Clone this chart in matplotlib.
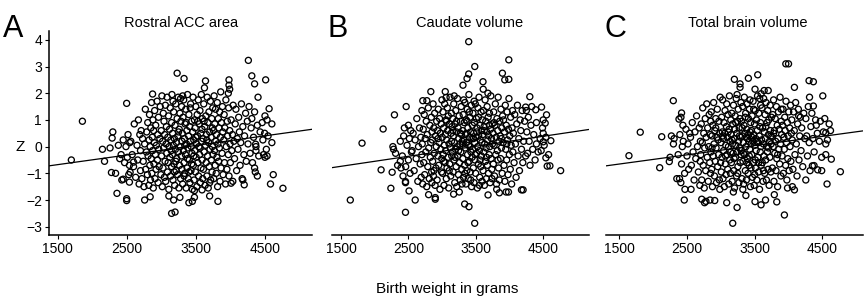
import matplotlib
matplotlib.use('Agg')
import matplotlib.pyplot as plt
import numpy as np

plt.rcParams['font.family'] = ['Liberation Sans', 'DejaVu Sans']

# (birth weight in g, Z)
acc_points = [
    (1700, -0.5), (1860, 0.95), (2150, -0.1), (2180, -0.55), (2300, 0.55), (2290, 0.32), (2280, -0.97),
    (2340, -1.0), (2360, -1.75), (2430, -1.25), (2450, -1.22), (2500, 1.62), (2500, -1.95), (2500, -2.02),
    (2540, -1.33), (2550, -0.96), (2600, -0.58), (2875, 1.97), (3230, 2.75), (3330, 2.55), (3150, -2.5),
    (3200, -2.45), (4260, 3.23), (4310, 2.65), (4350, 2.35), (4510, 2.5), (3640, 2.46), (3980, 2.5),
    (3980, 2.3), (3990, 2.15), (3970, 2.0), (4760, -1.56), (4620, -1.05), (4580, -1.4), (4350, -0.8),
    (4360, -0.95), (4390, -1.1), (4480, -0.3), (4500, -0.4), (4530, -0.35), (4560, 1.42), (4500, 1.15),
    (4530, 1.0), (4600, 0.85), (4400, 1.85), (3820, -2.05), (3700, -1.85), (3400, -2.1), (3450, -2.05),
    (3480, -1.9), (2840, -1.88), (2760, -2.0), (3180, -2.0), (3270, -1.9), (3110, -1.85), (3590, -1.62),
    (4010, -1.37), (4180, -1.25), (4200, -1.43), (4365, 0.09), (4370, -0.15),
    (2380, 0.05), (2420, -0.3), (2450, 0.25), (2470, -0.6), (2490, 0.0), (2510, -0.4), (2520, 0.45),
    (2530, -1.05), (2540, -0.7), (2545, 0.15), (2260, -0.05), (2400, -0.45),
    (2560, 0.2), (2580, -0.3), (2600, -0.75), (2610, 0.85), (2630, -1.15), (2650, 0.05), (2660, -0.5),
    (2670, 1.0), (2680, -1.4), (2690, 0.45), (2700, -0.9), (2700, -0.15),
    (2710, 0.6), (2720, -1.2), (2730, 0.3), (2740, -0.55), (2750, -1.5), (2760, 0.1), (2770, 1.4),
    (2775, -0.85), (2785, -0.2), (2790, 0.55), (2800, -1.05), (2805, 0.9), (2810, -0.35), (2820, -1.45),
    (2825, 0.25), (2830, 1.2), (2835, -0.7), (2840, 0.0), (2845, -1.25), (2850, 0.7),
    (2855, -0.45), (2860, 1.65), (2865, -1.0), (2870, 0.35), (2875, -0.15), (2880, 1.0), (2885, -1.55),
    (2890, 0.6), (2895, -0.65), (2900, 0.15), (2905, 1.35), (2910, -1.2), (2915, -0.3), (2920, 0.8),
    (2925, -0.85), (2930, 0.05), (2940, 1.7), (2945, -0.5), (2950, 0.45), (2955, -1.35), (2960, 1.1),
    (2965, -0.1), (2970, -0.75), (2980, 0.3), (2985, 1.5), (2995, -1.05),
    (3000, 0.6), (3005, -0.35), (3010, 1.9), (3015, -1.5), (3020, 0.2), (3025, -0.8), (3030, 1.25),
    (3035, -0.05), (3040, 0.95), (3045, -1.15), (3050, 0.45), (3055, -0.55), (3060, 1.55), (3065, -1.3),
    (3070, 0.1), (3075, 0.75), (3080, -0.25), (3085, 1.85), (3090, -0.95), (3095, 0.35), (3100, -0.6),
    (3105, 1.15), (3110, -1.6), (3115, 0.0), (3120, 0.65), (3125, -0.4), (3130, 1.45), (3135, -1.1),
    (3140, 0.25), (3145, -0.15), (3150, 0.9), (3150, -0.75),
    (3155, 1.95), (3160, -0.3), (3165, 0.5), (3170, -1.25), (3175, 0.05), (3180, 1.3), (3185, -0.65),
    (3190, 0.3), (3195, -1.45), (3200, 0.8), (3205, -0.1), (3210, 1.6), (3215, -0.9), (3220, 0.15),
    (3225, -0.45), (3230, 1.05), (3235, -1.05), (3240, 0.4), (3245, 1.85), (3250, -0.2), (3255, -1.55),
    (3260, 0.65), (3265, -0.7), (3270, 1.25), (3275, 0.0), (3280, -1.2), (3285, 0.95), (3290, -0.35),
    (3295, 1.5), (3300, -0.85), (3300, 0.2), (3250, 0.55), (3210, -0.55), (3170, 1.7), (3280, 1.8),
    (3190, -0.95),
    (3305, 0.5), (3310, -1.4), (3315, 1.1), (3320, -0.15), (3325, 1.75), (3330, -0.6), (3335, 0.3),
    (3340, -1.0), (3345, 0.85), (3350, -0.3), (3355, 1.4), (3360, -1.55), (3365, 0.1), (3370, 0.6),
    (3375, -0.8), (3380, 1.95), (3385, -0.05), (3390, -1.2), (3395, 0.4), (3400, 1.2), (3405, -0.5),
    (3410, 0.75), (3415, -1.35), (3420, 0.2), (3425, 1.6), (3430, -0.9), (3435, 0.0), (3440, 0.95),
    (3445, -0.25), (3450, -1.6), (3310, 1.9), (3340, 0.05), (3360, 0.9), (3380, -0.45), (3400, -0.95),
    (3420, 1.45), (3440, -0.65), (3330, -1.1),
    (3455, 0.55), (3460, 1.85), (3465, -0.7), (3470, 0.25), (3475, -1.25), (3480, 1.0), (3485, -0.15),
    (3490, 0.7), (3495, -0.95), (3500, 1.5), (3505, -0.4), (3510, 0.1), (3515, -1.5), (3520, 1.2),
    (3525, 0.4), (3530, -0.6), (3535, 1.75), (3540, -1.1), (3545, 0.0), (3550, 0.85), (3555, -0.3),
    (3560, 1.35), (3565, -1.35), (3570, 0.5), (3575, -0.8), (3580, 1.95), (3585, 0.2), (3590, -0.5),
    (3595, 1.05), (3600, -1.2), (3470, -0.35), (3500, 0.35), (3530, 0.95), (3560, -0.05), (3590, 0.65),
    (3480, -1.65),
    (3605, 0.3), (3610, -0.85), (3615, 1.6), (3620, -0.2), (3625, 2.2), (3630, 0.75), (3635, -1.45),
    (3640, 0.05), (3645, 1.15), (3650, -0.6), (3655, 0.45), (3660, -1.1), (3665, 1.85), (3670, -0.35),
    (3675, 0.9), (3680, -1.55), (3685, 0.15), (3690, 1.3), (3695, -0.75), (3700, 0.55), (3705, -0.1),
    (3710, 1.7), (3715, -1.25), (3720, 0.35), (3725, -0.5), (3730, 1.05), (3735, -0.95), (3740, 0.0),
    (3745, 1.45), (3750, -0.3), (3620, 0.95), (3660, 0.25), (3700, -1.35), (3740, 0.7),
    (3755, 0.6), (3760, -1.2), (3765, 1.9), (3770, -0.15), (3775, 0.85), (3780, -0.7), (3785, 1.4),
    (3790, 0.2), (3795, -1.0), (3800, 0.45), (3805, -0.4), (3810, 1.65), (3815, -1.5), (3820, 0.1),
    (3825, 1.05), (3830, -0.55), (3835, 0.7), (3840, -0.05), (3845, 1.3), (3850, -1.3), (3855, 0.35),
    (3860, 2.05), (3865, -0.8), (3870, 0.9), (3880, -0.25), (3885, 1.5), (3890, 0.55), (3895, -1.05),
    (3905, 0.25), (3910, 1.2), (3915, -0.6), (3920, 0.7), (3930, -1.4), (3935, 1.75), (3940, 0.0),
    (3950, -0.85), (3955, 0.95), (3960, 0.4), (3970, -0.3), (3975, 1.45), (3980, -1.1), (3990, 0.6),
    (3995, 0.1), (4000, -0.6), (4010, 1.0), (4020, -0.15), (4030, 0.45), (4035, -1.3), (4040, 1.55),
    (4050, 0.2),
    (4060, -0.45), (4070, 0.85), (4080, 1.4), (4090, -0.9), (4100, 0.3), (4110, -0.1), (4120, 1.1),
    (4130, 0.55), (4140, -0.7), (4150, 0.15), (4160, 1.6), (4170, -1.2), (4180, 0.75), (4195, -0.3),
    (4205, 0.4), (4220, 1.25), (4230, -0.55), (4245, 0.95),
    (4255, 0.1), (4270, 1.5), (4285, -0.25), (4300, 0.7), (4310, 1.05), (4320, -0.6), (4335, 0.35),
    (4350, 1.3), (4370, 0.0), (4390, 0.8), (4410, -0.35), (4430, 0.55),
    (4460, 0.9), (4470, 0.25), (4495, 0.5), (4520, -0.1), (4545, 0.4), (4600, 0.15),
]

caudate_points = [
    (3395, 3.93), (3990, 3.25), (3485, 3.0), (3395, 2.72), (3370, 2.55), (3310, 2.3), (3895, 2.75),
    (3930, 2.5), (3990, 2.52), (3607, 2.43), (3610, 2.15), (3680, 2.0), (2833, 2.06), (3047, 2.06),
    (3060, 1.84), (2714, 1.72), (2774, 1.72), (2467, 1.5), (2293, 1.19), (2125, 0.66), (1812, 0.13),
    (1638, -2.0), (2095, -0.87), (2259, -0.96), (2240, -1.56), (2457, -1.31), (2457, -1.35), (2457, -2.46),
    (2510, -1.66), (2601, -2.0), (2440, 0.7), (2500, 0.8), (2280, -0.1), (2310, -0.25), (2380, -0.55),
    (2390, -0.8), (2340, -0.7), (3335, -2.15), (3399, -2.25), (3484, -2.87), (2899, -1.91), (2899, -1.97),
    (2800, -1.8), (3171, -1.78), (3682, -1.81), (3810, -1.6), (3850, -1.73), (3950, -1.7), (3985, -1.7),
    (4178, -1.62), (4202, -1.62), (4759, -0.9), (4614, 0.22), (4560, -0.73), (4600, -0.72), (4540, -0.42),
    (4476, 1.48), (4550, 1.19), (4302, 1.87), (4240, 1.48), (4250, 1.35), (4390, 1.38), (4500, 1.0),
    (4530, 0.88), (4500, 0.5), (4400, 0.1), (4500, 0.18),
    (2380, 0.2), (2410, -0.35), (2430, 0.4), (2460, -0.75), (2480, 0.05), (2500, -0.5), (2515, 0.3),
    (2525, -1.0), (2535, 0.6), (2545, -0.2), (2270, 0.0), (2420, -1.1),
    (2555, -0.15), (2570, 0.5), (2585, -0.9), (2600, 0.25), (2615, -0.45), (2625, 1.05), (2640, -1.3),
    (2650, 0.0), (2665, 0.7), (2675, -0.65), (2685, 0.35), (2690, -1.15), (2700, 1.35), (2700, -0.3),
    (2705, 0.1), (2712, -1.4), (2720, 0.65), (2728, -0.6), (2735, 1.2), (2742, -1.05), (2750, 0.3),
    (2758, -0.2), (2765, 0.95), (2772, -1.5), (2780, 0.45), (2788, -0.75), (2795, 1.45), (2802, -0.05),
    (2810, -1.2), (2818, 0.8), (2825, -0.4), (2832, 0.15), (2840, 1.1), (2845, -0.95), (2850, 0.55),
    (2850, -1.35),
    (2855, 0.25), (2860, -0.55), (2866, 1.6), (2872, -1.1), (2878, 0.7), (2884, -0.25), (2890, 1.25),
    (2896, -1.45), (2902, 0.4), (2908, -0.8), (2914, 0.0), (2920, 0.95), (2926, -1.25), (2932, 0.6),
    (2938, -0.35), (2944, 1.4), (2950, -0.7), (2956, 0.15), (2962, 1.05), (2968, -1.6), (2974, 0.5),
    (2980, -0.1), (2986, 0.85), (2992, -0.95), (2998, 1.75), (2995, -0.45), (2940, 0.3), (2880, -0.9),
    (3003, 0.35), (3008, -1.0), (3013, 1.3), (3018, -0.3), (3023, 0.7), (3028, -1.45), (3033, 0.05),
    (3038, 1.6), (3043, -0.6), (3048, 0.45), (3053, -0.15), (3058, 1.0), (3063, -1.2), (3068, 0.25),
    (3073, -0.8), (3078, 1.45), (3083, 0.6), (3088, -0.4), (3093, 1.15), (3098, -1.55), (3103, 0.1),
    (3108, 0.85), (3113, -0.65), (3118, 1.85), (3123, -0.05), (3128, -1.1), (3133, 0.5), (3138, 1.25),
    (3143, -0.35), (3148, 0.75), (3025, -0.55), (3065, 0.95), (3105, -0.9), (3140, 0.2),
    (3153, -0.2), (3158, 1.05), (3163, -0.95), (3168, 0.4), (3173, 1.6), (3178, -0.5), (3183, 0.15),
    (3188, -1.35), (3193, 0.85), (3198, -0.1), (3203, 1.35), (3208, -0.75), (3213, 0.55), (3218, -1.5),
    (3223, 0.0), (3228, 1.8), (3233, -0.35), (3238, 0.7), (3243, -1.05), (3248, 0.3), (3253, 1.15),
    (3258, -0.6), (3263, 0.1), (3268, -1.25), (3273, 0.95), (3278, -0.2), (3283, 1.5), (3288, 0.45),
    (3293, -0.85), (3298, 0.2), (3160, 0.6), (3190, -0.4), (3215, 0.95), (3245, -0.15), (3270, 0.5),
    (3295, -1.4), (3180, 1.9), (3255, -1.7),
    (3303, 0.6), (3308, -0.45), (3313, 1.2), (3318, -1.15), (3323, 0.25), (3328, 0.9), (3333, -0.7),
    (3338, 1.65), (3343, -0.05), (3348, 0.45), (3353, -1.4), (3358, 1.0), (3363, 0.15), (3368, -0.9),
    (3373, 1.4), (3378, -0.3), (3383, 0.7), (3388, -1.2), (3393, 0.05), (3398, 1.95), (3403, -0.55),
    (3408, 0.35), (3413, 1.1), (3418, -0.95), (3423, 0.55), (3428, -0.2), (3433, 1.55), (3438, -1.5),
    (3443, 0.3), (3448, 0.8), (3310, 0.1), (3340, -1.0), (3360, 0.5), (3385, -0.6), (3405, 1.3),
    (3425, -1.25), (3445, -0.4), (3320, 1.75), (3370, 0.95), (3415, 0.0),
    (3453, -0.1), (3458, 1.25), (3463, -0.8), (3468, 0.5), (3473, -1.35), (3478, 0.9), (3483, 0.15),
    (3488, -0.5), (3493, 1.6), (3498, -1.0), (3503, 0.35), (3508, 1.05), (3513, -0.25), (3518, 0.7),
    (3523, -1.55), (3528, 0.0), (3533, 1.45), (3538, -0.65), (3543, 0.4), (3548, 1.85), (3553, -0.15),
    (3558, -1.15), (3563, 0.8), (3568, 0.25), (3573, -0.75), (3578, 1.3), (3583, -0.35), (3588, 0.6),
    (3593, -1.3), (3598, 1.0), (3465, 0.3), (3490, -0.3), (3515, 0.55), (3540, 1.1), (3565, -0.5),
    (3590, 0.15), (3475, 1.7), (3555, -1.45),
    (3603, 0.45), (3608, -0.9), (3613, 1.35), (3618, -0.2), (3623, 0.75), (3628, -1.45), (3633, 0.1),
    (3638, 1.75), (3643, -0.55), (3648, 0.95), (3653, -0.05), (3658, -1.2), (3663, 0.55), (3668, 1.5),
    (3673, -0.7), (3678, 0.25), (3683, 1.1), (3688, -1.0), (3693, 0.4), (3698, -0.3), (3703, 1.25),
    (3708, 0.0), (3713, -1.35), (3718, 0.65), (3723, 1.9), (3728, -0.45), (3733, 0.3), (3738, -0.85),
    (3743, 0.85), (3748, 0.1), (3625, 0.6), (3660, -0.4), (3700, 0.8), (3740, -1.2),
    (3755, 0.5), (3760, -0.65), (3766, 1.3), (3772, 0.05), (3778, -1.1), (3784, 0.8), (3790, 1.6),
    (3796, -0.3), (3802, 0.35), (3808, -1.4), (3814, 1.05), (3820, -0.15), (3826, 0.6), (3832, 1.85),
    (3838, -0.8), (3844, 0.2), (3850, -1.25), (3856, 0.95), (3862, 0.4), (3868, -0.45), (3874, 1.4),
    (3880, -0.05), (3886, 0.7), (3892, -1.0), (3898, 1.15), (3770, 0.9), (3830, -0.5), (3880, 0.3),
    (3905, 0.15), (3912, 1.0), (3918, -0.7), (3925, 0.55), (3932, -1.3), (3938, 1.55), (3945, -0.1),
    (3952, 0.8), (3958, -0.5), (3965, 1.3), (3972, 0.25), (3978, -1.05), (3985, 0.65), (3992, 1.8),
    (3998, -0.3), (4005, 0.4), (4012, -0.85), (4018, 1.1), (4025, 0.05), (4032, -1.4), (4038, 0.7),
    (4045, 1.35), (4050, -0.2), (3960, 0.1),
    (4058, 0.5), (4068, -0.6), (4078, 1.2), (4088, 0.1), (4098, -1.15), (4108, 0.85), (4118, 1.55),
    (4128, -0.35), (4138, 0.3), (4148, -0.9), (4158, 1.0), (4168, 0.6), (4178, -0.1), (4188, 1.35),
    (4198, -0.6), (4210, 0.2), (4225, 0.95), (4240, -0.35),
    (4258, 0.55), (4268, -0.25), (4280, 1.1), (4292, 0.2), (4305, -0.7), (4318, 0.8), (4330, 1.5),
    (4345, -0.1), (4360, 0.45), (4380, -0.5), (4400, 0.9), (4425, -0.2),
    (4455, 0.3), (4470, -0.15), (4490, 0.7), (4515, 0.05), (4540, 0.35), (4580, -0.3),
]

brain_points = [
    (3960, 3.1), (4000, 3.1), (3545, 2.69), (3407, 2.56), (3200, 2.52), (3284, 2.35), (3284, 2.22),
    (3505, 2.15), (4087, 2.22), (4303, 2.47), (4367, 2.43), (4506, 1.9), (4310, 1.85), (4367, 1.52),
    (3640, 2.1), (3700, 2.1), (3595, 1.98), (2298, 1.72), (1810, 0.54), (1643, -0.34), (2097, -0.79),
    (2239, -0.56), (2127, 0.37), (2270, 0.4), (2310, 0.3), (2300, 0.1), (2431, 0.0), (2460, -2.0),
    (2470, -1.6), (2350, -1.2), (2390, -1.2), (2560, -1.6), (2382, 1.03), (2411, 1.1), (2420, 1.26),
    (2440, 0.8), (2718, -1.97), (2760, -2.1), (2780, -2.05), (2840, -2.0), (2910, -2.02), (3176, -2.87),
    (3087, -2.1), (3240, -2.28), (3370, -1.83), (3505, -2.06), (3594, -2.18), (3660, -2.0), (3826, -2.07),
    (3939, -2.56), (3790, -1.8), (4057, -1.5), (4087, -1.62), (4569, -1.4), (4766, -0.94), (4632, -0.47),
    (4550, -0.3), (4352, -0.72), (4377, -0.71), (4431, -0.87), (4490, -0.9), (4255, -1.25), (4550, 0.52),
    (4550, 0.1), (4600, 0.85), (4620, 0.6), (4410, 0.8), (4150, 1.15),
    (2370, -0.3), (2395, 0.45), (2420, -0.65), (2445, 0.2), (2465, -1.0), (2485, 0.65), (2500, -0.35),
    (2515, 0.1), (2525, -0.85), (2540, 0.5), (2250, -0.4), (2410, -1.35),
    (2552, 0.35), (2565, -0.7), (2578, 0.9), (2590, -0.2), (2605, -1.25), (2618, 0.55), (2630, -0.45),
    (2642, 1.15), (2655, 0.0), (2668, -0.95), (2680, 0.7), (2690, -1.45), (2698, 0.2), (2695, -0.55),
    (2704, -0.3), (2711, 0.85), (2718, -1.25), (2726, 0.15), (2733, 1.45), (2740, -0.7), (2748, 0.5),
    (2755, -1.55), (2762, -0.05), (2770, 1.05), (2777, -0.9), (2784, 0.35), (2792, 1.6), (2799, -0.4),
    (2806, 0.7), (2814, -1.3), (2821, 0.0), (2828, 1.2), (2836, -0.6), (2843, 0.45), (2848, -1.0),
    (2850, 0.95),
    (2853, -0.2), (2858, 1.3), (2864, -0.85), (2870, 0.4), (2876, -1.5), (2882, 0.8), (2888, -0.35),
    (2894, 1.65), (2900, 0.1), (2906, -1.1), (2912, 0.6), (2918, -0.55), (2924, 1.05), (2930, -0.05),
    (2936, -1.35), (2942, 0.35), (2948, 1.4), (2954, -0.75), (2960, 0.25), (2966, -0.3), (2972, 0.95),
    (2978, -1.25), (2984, 0.5), (2990, 1.85), (2996, -0.6), (2870, -0.05), (2925, 0.7), (2985, -1.6),
    (3002, 0.15), (3007, -0.95), (3012, 1.1), (3017, -0.4), (3022, 0.55), (3027, 1.75), (3032, -1.2),
    (3037, 0.3), (3042, -0.15), (3047, 0.9), (3052, -1.5), (3057, 0.5), (3062, 1.35), (3067, -0.65),
    (3072, 0.05), (3077, -1.05), (3082, 0.75), (3087, 1.6), (3092, -0.3), (3097, 0.35), (3102, -0.85),
    (3107, 1.2), (3112, 0.0), (3117, -1.4), (3122, 0.65), (3127, 1.9), (3132, -0.5), (3137, 0.2),
    (3142, -1.0), (3147, 1.0), (3030, 0.4), (3070, -0.35), (3110, 0.55), (3145, -0.2),
    (3152, 0.45), (3157, -0.6), (3162, 1.25), (3167, -1.3), (3172, 0.1), (3177, 0.85), (3182, -0.25),
    (3187, 1.55), (3192, -0.9), (3197, 0.3), (3202, -1.55), (3207, 0.65), (3212, 1.15), (3217, -0.4),
    (3222, 0.05), (3227, 1.8), (3232, -1.1), (3237, 0.5), (3242, -0.2), (3247, 0.95), (3252, -0.75),
    (3257, 1.4), (3262, 0.2), (3267, -1.35), (3272, 0.7), (3277, -0.05), (3282, 1.05), (3287, -0.6),
    (3292, 0.35), (3297, 1.65), (3165, 0.25), (3195, -0.45), (3220, 0.9), (3250, -1.0), (3275, 0.4),
    (3298, -0.3), (3185, -1.7), (3240, 1.95),
    (3302, -0.15), (3307, 0.95), (3312, -1.2), (3317, 0.4), (3322, 1.5), (3327, -0.55), (3332, 0.15),
    (3337, -1.4), (3342, 0.8), (3347, 1.85), (3352, -0.3), (3357, 0.5), (3362, -0.9), (3367, 1.25),
    (3372, 0.0), (3377, -1.25), (3382, 0.65), (3387, 1.6), (3392, -0.45), (3397, 0.3), (3402, -1.0),
    (3407, 1.05), (3412, 0.2), (3417, -0.7), (3422, 1.4), (3427, -0.1), (3432, 0.55), (3437, -1.5),
    (3442, 0.9), (3447, 0.1), (3315, 0.7), (3335, -0.25), (3360, 1.1), (3385, -0.6), (3410, 0.45),
    (3430, 1.75), (3445, -0.8), (3325, -1.6), (3375, 0.35), (3420, -0.35),
    (3452, 0.6), (3457, -0.3), (3462, 1.15), (3467, -1.15), (3472, 0.2), (3477, 1.7), (3482, -0.6),
    (3487, 0.45), (3492, -1.45), (3497, 0.85), (3502, 0.05), (3507, 1.35), (3512, -0.8), (3517, 0.3),
    (3522, -0.15), (3527, 1.0), (3532, -1.25), (3537, 0.6), (3542, 1.9), (3547, -0.4), (3552, 0.15),
    (3557, -0.95), (3562, 1.25), (3567, 0.4), (3572, -1.6), (3577, 0.75), (3582, -0.2), (3587, 1.55),
    (3592, 0.0), (3597, -0.7), (3460, 0.35), (3485, 1.4), (3510, -0.5), (3535, 0.2), (3560, -0.6),
    (3585, 0.9), (3500, -1.05), (3575, 1.8),
    (3603, 0.25), (3608, 1.45), (3613, -0.6), (3618, 0.7), (3623, -1.3), (3628, 0.1), (3633, 1.8),
    (3638, -0.35), (3643, 0.55), (3648, -1.0), (3653, 1.2), (3658, 0.3), (3663, -0.5), (3668, 1.65),
    (3673, -1.25), (3678, 0.0), (3683, 0.9), (3688, -0.2), (3693, 1.35), (3698, -0.85), (3703, 0.45),
    (3708, 1.0), (3713, -1.45), (3718, 0.2), (3723, -0.4), (3728, 1.55), (3733, 0.6), (3738, -0.95),
    (3743, 0.1), (3748, 1.1), (3630, -0.9), (3665, 0.75), (3705, -0.05), (3740, 0.4),
    (3755, 0.35), (3761, -0.8), (3767, 1.2), (3773, 0.0), (3779, 1.75), (3785, -1.3), (3791, 0.6),
    (3797, -0.25), (3803, 1.05), (3809, 0.2), (3815, -0.9), (3821, 1.5), (3827, -0.45), (3833, 0.8),
    (3839, -1.5), (3845, 0.3), (3851, 1.3), (3857, -0.1), (3863, 0.65), (3869, -0.65), (3875, 1.85),
    (3881, 0.1), (3887, -1.1), (3893, 0.95), (3899, 0.45), (3780, 0.5), (3840, -0.3), (3890, 1.4),
    (3905, -0.35), (3911, 0.8), (3918, 1.4), (3924, -1.0), (3931, 0.35), (3937, -0.1), (3944, 1.1),
    (3950, 0.6), (3957, -0.7), (3963, 1.7), (3970, 0.15), (3976, -1.25), (3983, 0.9), (3989, -0.45),
    (3996, 0.4), (4003, 1.3), (4009, -0.9), (4016, 0.7), (4022, 0.0), (4029, 1.55), (4035, -0.55),
    (4042, 0.5), (4048, 1.0), (3985, -1.55),
    (4055, 0.25), (4065, -0.85), (4075, 1.3), (4085, 0.6), (4095, -0.3), (4105, 1.65), (4115, 0.1),
    (4125, -1.1), (4135, 0.85), (4145, 1.4), (4155, -0.5), (4165, 0.4), (4175, 1.1), (4185, -0.15),
    (4195, 0.7), (4210, -0.75), (4225, 1.25), (4240, 0.3),
    (4256, 1.05), (4268, 0.4), (4280, -0.35), (4292, 1.5), (4305, 0.15), (4318, -0.9), (4330, 0.75),
    (4345, 1.25), (4360, 0.3), (4378, -0.2), (4400, 1.0), (4425, 0.5),
    (4455, 0.2), (4470, 0.95), (4490, -0.4), (4515, 0.55), (4535, 1.05), (4575, 0.25),
]

letters = ['A', 'B', 'C']
titles = ['Rostral ACC area', 'Caudate volume', 'Total brain volume']
# fitted line (intercept, slope per gram)
fits = [(-1.216, 0.00036), (-1.30, 0.000375), (-1.17, 0.000345)]
xticks = [1500, 2500, 3500, 4500]
yticks = [-3, -2, -1, 0, 1, 2, 3, 4]

W, H = 865, 297
fig = plt.figure(figsize=(W / 100, H / 100), dpi=100)

# axes boxes in pixels: left, right, and x-limits
boxes = [(49, 311.7, 1377, 5176), (331.7, 589, 1362, 5180), (606, 863, 1304, 5100)]
title_x = [181, 470, 748]
letter_x = [3, 328, 605]
top_px, bot_px = 31, 235

for i, pts in enumerate([acc_points, caudate_points, brain_points]):
    l, r, x0, x1 = boxes[i]
    ax = fig.add_axes([l / W, (H - bot_px) / H, (r - l) / W, (bot_px - top_px) / H])
    arr = np.array(pts)
    ax.scatter(arr[:, 0], arr[:, 1], s=19, facecolors='none', edgecolors='black', linewidths=0.95)
    b0, b1 = fits[i]
    ax.plot([x0, x1], [b0 + b1 * x0, b0 + b1 * x1], color='black', lw=0.9)
    ax.set_xlim(x0, x1)
    ax.set_ylim(-3.31, 4.33)
    ax.set_xticks(xticks)
    ax.tick_params(axis='x', length=3, width=0.8, pad=2, labelsize=10)
    for s in ['top', 'right']:
        ax.spines[s].set_visible(False)
    ax.spines['bottom'].set_linewidth(1.1)
    if i == 0:
        ax.set_yticks(yticks)
        ax.tick_params(axis='y', length=3, width=0.8, pad=2, labelsize=10)
        ax.spines['left'].set_linewidth(1.1)
    else:
        ax.spines['left'].set_visible(False)
        ax.set_yticks([])
    fig.text(title_x[i] / W, (H - 26.7) / H, titles[i], ha='center', va='baseline', fontsize=10.5)
    fig.text(letter_x[i] / W, (H - 37) / H, letters[i], ha='left', va='baseline', fontsize=22)

fig.text(20 / W, (H - 147) / H, 'Z', ha='center', va='center', fontsize=11)
fig.text(447.5 / W, (H - 293) / H, 'Birth weight in grams', ha='center', va='baseline', fontsize=11)

fig.savefig('out.png', dpi=100)
